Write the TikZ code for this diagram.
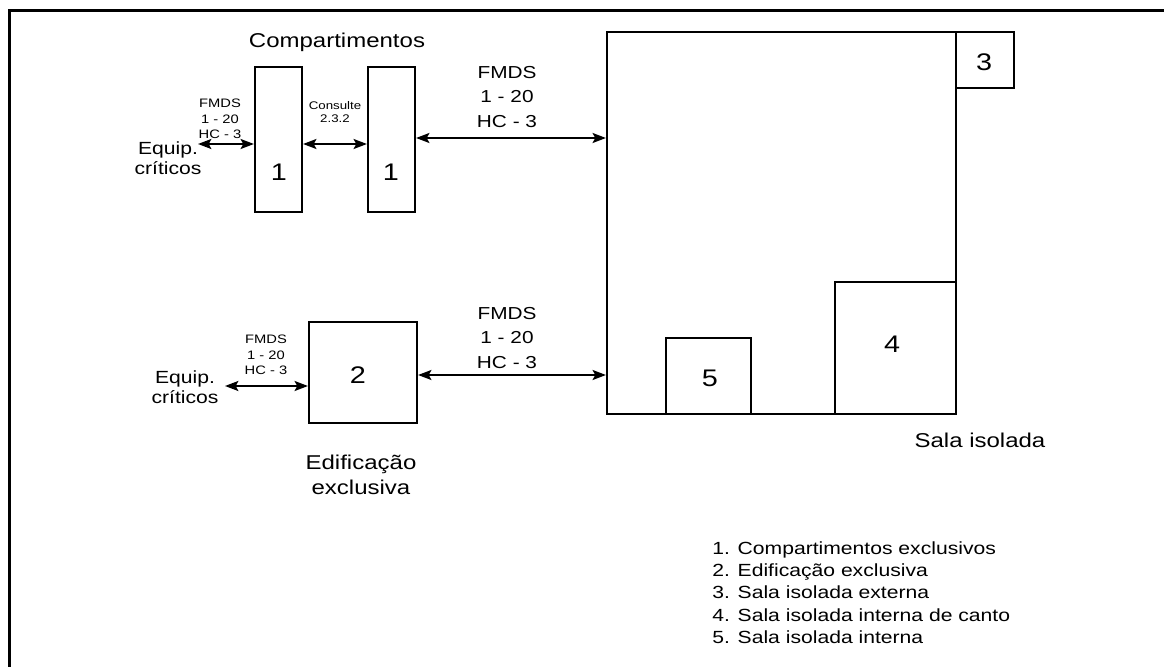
\documentclass[tikz,border=0pt]{standalone}
\usepackage{fontspec}
\setmainfont{Liberation Sans}[FakeStretch=1.2]
\usetikzlibrary{arrows.meta,fit}
\begin{document}
\begin{tikzpicture}[x=0.75pt,y=-0.75pt,
  box/.style={draw, line width=1.6pt, inner sep=0pt},
  arr/.style={{Stealth[length=10pt,width=7.5pt,inset=2pt]}-{Stealth[length=10pt,width=7.5pt,inset=2pt]}, line width=1.4pt},
  numtxt/.style={font=\fontsize{18}{21}\selectfont, inner sep=0pt},
  titletxt/.style={font=\fontsize{15}{18.7}\selectfont, inner sep=0pt, align=center},
  eqtxt/.style={font=\fontsize{13.2}{15}\selectfont, inner sep=0pt, align=center},
  bigfm/.style={font=\fontsize{13}{18.4}\selectfont, inner sep=0pt, align=center},
  smallfm/.style={font=\fontsize{9.2}{11.5}\selectfont, inner sep=0pt, align=center},
  constxt/.style={font=\fontsize{8.3}{10}\selectfont, inner sep=0pt, align=center},
  legtxt/.style={font=\fontsize{13.2}{16.7}\selectfont, inner sep=0pt, align=left}
]
\useasboundingbox (0,0) rectangle (1164,667);
% frame
\draw[line width=2.25pt] (9.5,667) -- (9.5,10.3) -- (1164,10.3);

% boxes
\node[box, fit={(255,67) (302,212)}] (c1a) {};
\node[box, fit={(368,67) (415,212)}] (c1b) {};
\node[box, fit={(309,322) (417,423)}] (ed) {};
\node[box, fit={(607,32) (956,414)}] (sala) {};
\node[box, fit={(956,32) (1014,88)}] (s3) {};
\node[box, fit={(835,282) (956,414)}] (s4) {};
\node[box, fit={(666,338) (751,414)}] (s5) {};

% numbers
\node[numtxt] (n1a) at (279,172) {1};
\node[numtxt] (n1b) at (391,172) {1};
\node[numtxt] (n2) at (358,375) {2};
\node[numtxt] (n3) at (984,62) {3};
\node[numtxt] (n4) at (892,344) {4};
\node[numtxt] (n5) at (710,378) {5};

% titles
\node[titletxt] (tcomp) at (337,42) {Compartimentos};
\node[titletxt] (ted) at (361,475) {Edifica\c{c}\~ao\\exclusiva};
\node[titletxt] (tsala) at (980,440) {Sala isolada};

% equip
\node[eqtxt] (eq1) at (168,158) {Equip.\\cr\'iticos};
\node[eqtxt] (eq2) at (185,387) {Equip.\\cr\'iticos};

% labels
\node[smallfm] (l1) at (220,119) {FMDS\\1 - 20\\HC - 3};
\node[smallfm] (l2) at (266,355) {FMDS\\1 - 20\\HC - 3};
\node[constxt] (lc) at (335,112) {Consulte\\2.3.2};
\node[bigfm] (l3) at (507,97) {FMDS\\1 - 20\\HC - 3};
\node[bigfm] (l4) at (507,338) {FMDS\\1 - 20\\HC - 3};

% arrow levels
\coordinate (ya) at (0,144);
\coordinate (yb) at (0,138);
\coordinate (yc) at (0,386);
\coordinate (yd) at (0,375);
\coordinate (e1) at (198,144);
\coordinate (e2) at (225,386);

\draw[arr] (e1) -- (c1a.west |- ya);
\draw[arr] (c1a.east |- ya) -- (c1b.west |- ya);
\draw[arr] (c1b.east |- yb) -- (sala.west |- yb);
\draw[arr] (e2) -- (ed.west |- yc);
\draw[arr] (ed.east |- yd) -- (sala.west |- yd);

% legend
\node[legtxt, anchor=west] (leg) at (712,592.5) {1. Compartimentos exclusivos\\2. Edifica\c{c}\~ao exclusiva\\3. Sala isolada externa\\4. Sala isolada interna de canto\\5. Sala isolada interna};
\end{tikzpicture}
\end{document}
